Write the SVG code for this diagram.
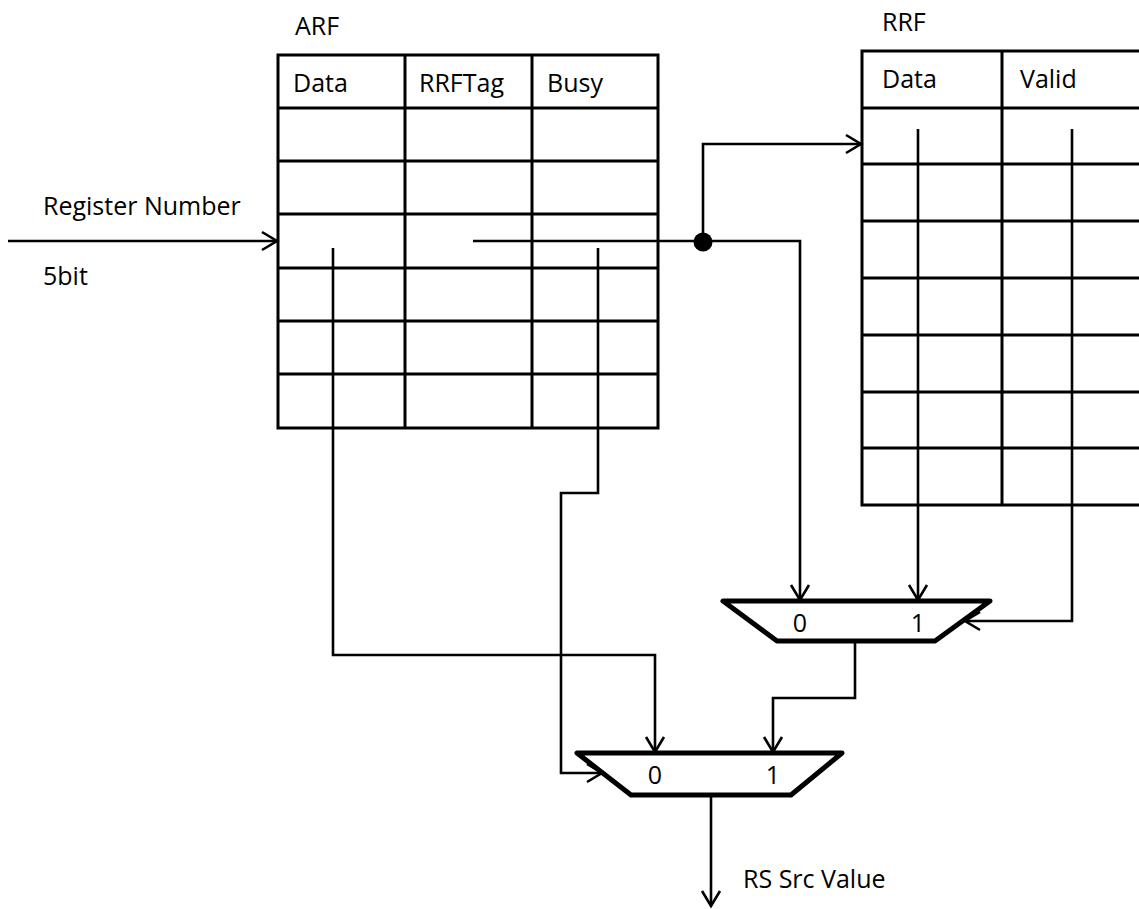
<svg xmlns="http://www.w3.org/2000/svg" width="1139" height="909" viewBox="0 0 1139 909">
  <style>
    text { font-family: "Open Sans", "Liberation Sans", sans-serif; font-size: 25px; fill: #000; }
    .grid { fill: none; stroke: #000; stroke-width: 3; }
    .wire { fill: none; stroke: #000; stroke-width: 2.6; }
    .mux { fill: #fff; stroke: #000; stroke-width: 5; stroke-linejoin: round; }
    .mid { text-anchor: middle; }
  </style>
  <defs>
    <marker id="arrow" markerUnits="userSpaceOnUse" markerWidth="24" markerHeight="24" viewBox="-18 -12 20 24" refX="0" refY="0" orient="auto" overflow="visible">
      <path d="M-15,-9 L0,0 L-15,9" fill="none" stroke="#000" stroke-width="2.6"/>
    </marker>
  </defs>
  <rect width="1139" height="909" fill="#fff"/>

  <!-- Architectural register file -->
  <g id="arf">
    <text x="295" y="35">ARF</text>
    <rect class="grid" x="278" y="55" width="380" height="373"/>
    <path class="grid" d="M405,55 V428 M532,55 V428 M278,108 H658 M278,161 H658 M278,214 H658 M278,268 H658 M278,321 H658 M278,374 H658"/>
    <text x="293" y="92">Data</text>
    <text x="419" y="92">RRFTag</text>
    <text x="547" y="92">Busy</text>
  </g>

  <!-- Rename register file -->
  <g id="rrf">
    <text x="882" y="31">RRF</text>
    <path class="grid" d="M1145,51 H862 V505 H1145 M1002,51 V505 M862,108 H1145 M862,164 H1145 M862,221 H1145 M862,278 H1145 M862,335 H1145 M862,392 H1145 M862,448 H1145"/>
    <text x="882" y="88">Data</text>
    <text x="1020" y="88">Valid</text>
  </g>

  <!-- RRF select mux -->
  <g id="mux-rrf">
    <polygon class="mux" points="723,601 990,601 935,641 777,641"/>
    <text class="mid" x="800" y="632">0</text>
    <text class="mid" x="918" y="632">1</text>
  </g>

  <!-- Final source mux -->
  <g id="mux-src">
    <polygon class="mux" points="577,753 842,753 791,795 631,795"/>
    <text class="mid" x="655" y="784">0</text>
    <text class="mid" x="773" y="784">1</text>
  </g>

  <!-- Input and output labels -->
  <g id="labels">
    <text x="43" y="215">Register Number</text>
    <text x="43" y="285">5bit</text>
    <text x="743" y="888">RS Src Value</text>
  </g>

  <!-- Wires -->
  <g id="connectors">
    <path class="wire" d="M8,241 H277" marker-end="url(#arrow)"/>
    <path class="wire" d="M473,241 H703"/>
    <circle cx="703" cy="242" r="9.5" fill="#000"/>
    <path class="wire" d="M703,241 V144 H861" marker-end="url(#arrow)"/>
    <path class="wire" d="M703,241 H800 V600" marker-end="url(#arrow)"/>
    <path class="wire" d="M918,129 V600" marker-end="url(#arrow)"/>
    <path class="wire" d="M1072,129 V621 H965" marker-end="url(#arrow)"/>
    <path class="wire" d="M855,641 V698 H773 V752" marker-end="url(#arrow)"/>
    <path class="wire" d="M333,248 V655 H655 V752" marker-end="url(#arrow)"/>
    <path class="wire" d="M598,248 V493 H561 V773 H602" marker-end="url(#arrow)"/>
    <path class="wire" d="M711,795 V906" marker-end="url(#arrow)"/>
  </g>
</svg>
